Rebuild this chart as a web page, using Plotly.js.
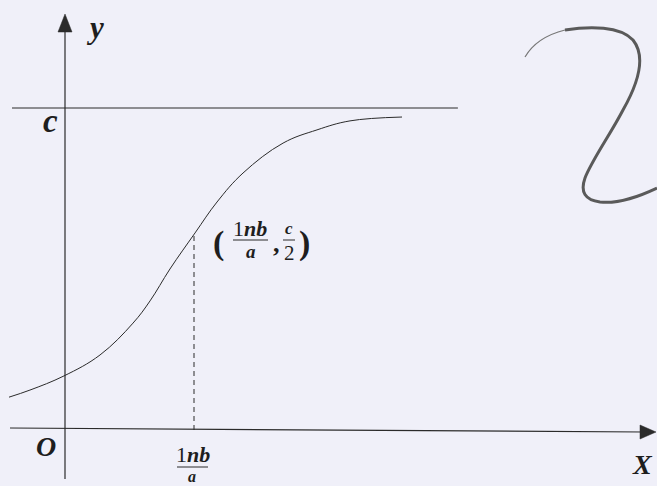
<!DOCTYPE html>
<html>
<head>
<meta charset="utf-8">
<script src="https://cdn.plot.ly/plotly-3.0.1.min.js"></script>
<style>html,body{margin:0;padding:0;background:#f0f0f9;}#chart{width:657px;height:486px;}</style>
</head>
<body>
<div id="chart"></div>
<script>
// Logistic curve (x in units of ln b / a, y in units of c)
var curveX = [-0.423, -0.262, 0.000, 0.277, 0.531, 0.662, 0.815, 1.008, 1.177, 1.377, 1.685, 1.946, 2.200, 2.600];
var curveY = [ 0.102,  0.124, 0.168, 0.233, 0.332, 0.401, 0.500, 0.612, 0.708, 0.798, 0.891, 0.932, 0.960, 0.972];
// Marked point (ln b / a, c/2) as drawn
var markX = [1.0];
var markY = [0.615];
// Asymptote y = c
var asymX = [-0.40, 3.03];
var asymY = [1, 1];

var W = 657, H = 486;
function P(px){ return px / W; }
function Q(py){ return 1 - py / H; }

var ink = '#2b2b2b';
var serif = 'Liberation Serif, Times New Roman, serif';

var traces = [
  {x: asymX, y: asymY, mode: 'lines', line: {color: ink, width: 1}, hoverinfo: 'skip'},
  {x: curveX, y: curveY, mode: 'lines', line: {color: ink, width: 1, shape: 'spline', smoothing: 1.1}, hoverinfo: 'skip'},
  {x: [markX[0], markX[0]], y: [0, markY[0]], mode: 'lines', line: {color: ink, width: 1, dash: '5px,4px'}, hoverinfo: 'skip'}
];

function ann(text, px, py, size, extra){
  var a = {text: text, xref: 'paper', yref: 'paper', x: P(px), y: Q(py), showarrow: false,
           xanchor: 'center', yanchor: 'middle', font: {family: serif, size: size, color: '#1e1e1e'}};
  if (extra) for (var k in extra) a[k] = extra[k];
  return a;
}

var annotations = [
  ann('<b><i>y</i></b>', 95, 28, 31),
  ann('<b><i>c</i></b>', 50, 121, 33),
  ann('<b><i>O</i></b>', 46, 446, 28),
  ann('<b><i>X</i></b>', 642, 464, 28),
  // point label
  ann('<b>(</b>', 218, 243, 34),
  ann('1<b><i>nb</i></b>', 250, 228, 22),
  ann('<b><i>a</i></b>', 251, 251, 19),
  ann('<b>,</b>', 276, 243, 26),
  ann('<b><i>c</i></b>', 289, 228, 17),
  ann('2', 289, 253, 21),
  ann('<b>)</b>', 304, 243, 34),
  // tick label under x axis
  ann('1<b><i>nb</i></b>', 193, 454, 22),
  ann('<b><i>a</i></b>', 192, 476, 16)
];

function seg(x0, y0, x1, y1, w){
  return {type: 'line', xref: 'paper', yref: 'paper', x0: P(x0), y0: Q(y0), x1: P(x1), y1: Q(y1),
          line: {color: ink, width: w || 1}};
}
function tri(pts){
  var d = 'M' + pts.map(function(p){ return P(p[0]) + ',' + Q(p[1]); }).join(' L') + ' Z';
  return {type: 'path', xref: 'paper', yref: 'paper', path: d, fillcolor: ink, line: {color: ink, width: 0.5}};
}
function curvePath(str, w, col){
  var d = str.replace(/(-?\d+\.?\d*),(-?\d+\.?\d*)/g, function(m, a, b){
    return P(parseFloat(a)).toFixed(5) + ',' + Q(parseFloat(b)).toFixed(5);
  });
  return {type: 'path', xref: 'paper', yref: 'paper', path: d, line: {color: col || '#555', width: w}};
}

var shapes = [
  // x axis (slightly tilted as in the scan)
  seg(10, 428, 644, 432, 1.2),
  tri([[656, 432], [640, 425], [640, 439]]),
  // y axis
  seg(65, 479, 65, 30, 1.2),
  tri([[65, 14], [58, 32], [72, 32]]),
  // fraction bars
  seg(233, 240, 268, 240, 1),
  seg(283, 240, 295, 240, 1),
  seg(177, 467, 208, 467, 1),
  // decorative squiggle
  curvePath('M525,57 C532,45 545,35 565,30', 1.2, '#777'),
  curvePath('M565,30 C590,26 620,26 633,40 C645,55 640,80 623,110 C610,135 592,160 585,178 C580,192 585,200 600,202 C620,204 640,196 657,188', 3, '#5a5a5a')
];

var layout = {
  width: W, height: H,
  margin: {l: 0, r: 0, t: 0, b: 0},
  paper_bgcolor: '#f0f0f9',
  plot_bgcolor: 'rgba(0,0,0,0)',
  showlegend: false,
  xaxis: {range: [-64/130, 593/130], visible: false, fixedrange: true},
  yaxis: {range: [-56/322, 430/322], visible: false, fixedrange: true},
  annotations: annotations,
  shapes: shapes
};

Plotly.newPlot('chart', traces, layout, {displayModeBar: false, staticPlot: true});
</script>
</body>
</html>
